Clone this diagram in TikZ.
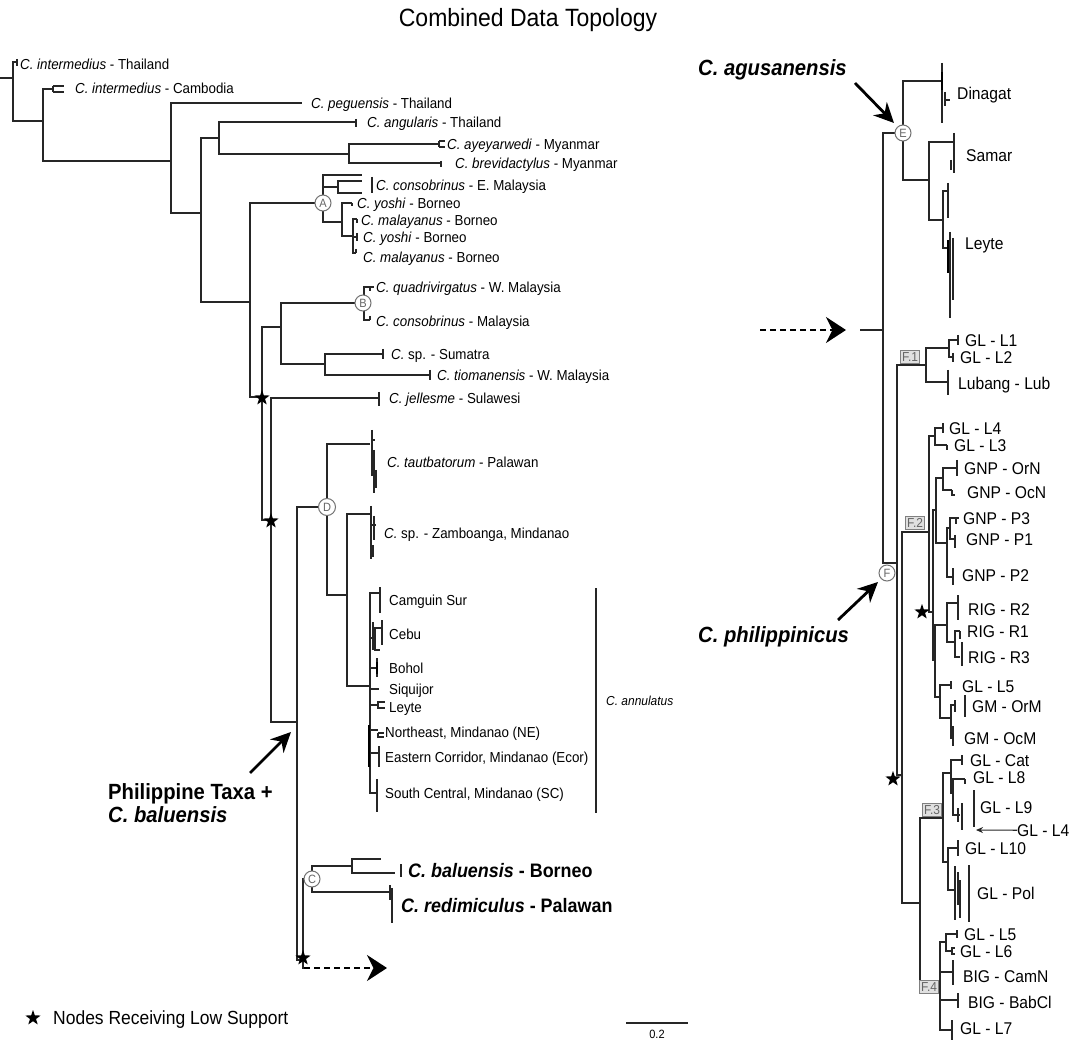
\documentclass[tikz,border=0pt]{standalone}
\usepackage{fontspec}
\setmainfont[FakeStretch=0.92]{Liberation Sans}
\usetikzlibrary{arrows.meta,shapes.geometric,calc}
\newcommand{\spn}[2]{\textit{#1} - #2}
\newcommand{\tipk}[3]{\draw[br] ($(#1)+(0,-#2)$) -- ($(#1)+(0,#3)$);}
\begin{document}
\begin{tikzpicture}[x=1pt,y=-1pt,
  br/.style={line width=1.05pt, draw=black!85},
  bar/.style={line width=2.2pt, draw=black!85},
  lbl/.style={anchor=base west, yshift=-5.2pt, inner sep=0pt, font=\fontsize{14.5}{16}\selectfont},
  rlbl/.style={anchor=base west, yshift=-6.1pt, inner sep=0pt, font=\fontsize{17}{19}\selectfont},
  blbl/.style={anchor=base west, yshift=-7pt, inner sep=0pt, font=\bfseries\fontsize{19.5}{21}\selectfont},
  bigl/.style={anchor=base west, yshift=-7.9pt, inner sep=0pt, font=\bfseries\fontsize{22}{24}\selectfont},
  circ/.style={circle, draw=black!55, line width=1pt, fill=white, inner sep=0pt, minimum size=16pt, font=\fontsize{12}{12}\selectfont, text=black!60},
  fbox/.style={draw=black!50, line width=1pt, fill=black!12, inner sep=1.8pt, font=\fontsize{13}{13}\selectfont, text=black!60},
  lowstar/.style={star, star points=5, star point ratio=2.5, fill=black, draw=none, inner sep=0pt, minimum size=16pt},
  bigarrow/.style={line width=2.8pt, -{Stealth[length=20pt,width=19pt]}},
  dasharrow/.style={line width=2.2pt, dash pattern=on 6pt off 4pt, -{Stealth[length=20pt,width=26pt]}}
]
\fill[white] (0,0) rectangle (1069,1040);
\useasboundingbox (0,0) rectangle (1069,1040);

\node[font=\fontsize{25}{28}\selectfont] (title) at (528,20) {Combined Data Topology};

%%%%%%%%%%%%%%%% LEFT TREE %%%%%%%%%%%%%%%%
\coordinate (stub) at (0,78);
\coordinate (r0) at (13,78);
\coordinate (t1) at (17,62);
\coordinate (n1) at (43,121);
\coordinate (n1a) at (53,89);
\coordinate (n2) at (171,161);
\coordinate (tpeg) at (302,103);
\coordinate (n3) at (201,213);
\coordinate (n4) at (219,138);
\coordinate (tang) at (356,122);
\coordinate (n5) at (349,154);
\coordinate (taye) at (439,144);
\coordinate (tbre) at (441,163);
\coordinate (n6) at (250,302);
\coordinate (nA) at (323,203);
\coordinate (tcon1) at (362,175);
\coordinate (nE) at (338,187);
\coordinate (tcE1) at (362,181);
\coordinate (tcE2) at (362,193);
\coordinate (nY) at (342,222);
\coordinate (tyo1) at (352,203);
\coordinate (nM) at (353,236);
\coordinate (tma1) at (357,219);
\coordinate (tyo2) at (357,237);
\coordinate (tma2) at (356,253);
\coordinate (s1) at (262,397);
\coordinate (nBS) at (281,327);
\coordinate (nB) at (364,303);
\coordinate (tqua) at (370,287);
\coordinate (tcon2) at (370,320);
\coordinate (nS) at (325,364);
\coordinate (tsum) at (383,354);
\coordinate (ttio) at (430,375);
\coordinate (s2) at (271,520);
\coordinate (tjel) at (379,398);
\coordinate (nP) at (297,722);
\coordinate (nD) at (327,507);
\coordinate (ttau) at (370,444);
\coordinate (nZ) at (347,595);
\coordinate (tzam) at (370,514);
\coordinate (nAnn) at (370,686);
\coordinate (tcam) at (380,593);
\coordinate (nCeb) at (375,638);
\coordinate (tceb1) at (382,628);
\coordinate (tceb2) at (380,650);
\coordinate (tboh) at (377,668);
\coordinate (tsiq) at (379,689);
\coordinate (tley) at (378,705);
\coordinate (tne) at (378,730);
\coordinate (tecor) at (379,753);
\coordinate (tsc) at (377,793);
\coordinate (s3) at (303,960);
\coordinate (nC) at (312,879);
\coordinate (nBal) at (352,866);
\coordinate (tbal1) at (381,859);
\coordinate (tbal2) at (395,873);
\coordinate (tred) at (390,892);
\coordinate (dash1) at (304,968);
\coordinate (dash1e) at (387,968);

\draw[br] (stub) -- (r0);
\draw[br] (r0) |- (t1);
\draw[br] (r0) |- (n1);
\draw[br] (n1) |- (n1a);
\draw[br] (n1) |- (n2);
\draw[br] (n2) |- (tpeg);
\draw[br] (n2) |- (n3);
\draw[br] (n3) |- (n4);
\draw[br] (n4) |- (tang);
\draw[br] (n4) |- (n5);
\draw[br] (n5) |- (taye);
\draw[br] (n5) |- (tbre);
\draw[br] (n3) |- (n6);
\draw[br] (n6) |- (nA);
\draw[br] (nA) |- (tcon1);
\draw[br] (nA) |- (nE);
\draw[br] (nE) |- (tcE1);
\draw[br] (nE) |- (tcE2);
\draw[br] (nA) |- (nY);
\draw[br] (nY) |- (tyo1);
\draw[br] (nY) |- (nM);
\draw[br] (nM) |- (tma1);
\draw[br] (nM) |- (tyo2);
\draw[br] (nM) |- (tma2);
\draw[br] (n6) |- (s1);
\draw[br] (s1) |- (nBS);
\draw[br] (nBS) |- (nB);
\draw[br] (nB) |- (tqua);
\draw[br] (nB) |- (tcon2);
\draw[br] (nBS) |- (nS);
\draw[br] (nS) |- (tsum);
\draw[br] (nS) |- (ttio);
\draw[br] (s1) |- (s2);
\draw[br] (s2) |- (tjel);
\draw[br] (s2) |- (nP);
\draw[br] (nP) |- (nD);
\draw[br] (nD) |- (ttau);
\draw[br] (nD) |- (nZ);
\draw[br] (nZ) |- (tzam);
\draw[br] (nZ) |- (nAnn);
\draw[br] (nAnn) |- (tcam);
\draw[br] (nAnn) |- (nCeb);
\draw[br] (nCeb) |- (tceb1);
\draw[br] (nCeb) |- (tceb2);
\draw[br] (nAnn) |- (tboh);
\draw[br] (nAnn) |- (tsiq);
\draw[br] (nAnn) |- (tley);
\draw[br] (nAnn) |- (tne);
\draw[br] (nAnn) |- (tecor);
\draw[br] (nAnn) |- (tsc);
\draw[br] (nP) |- (s3);
\draw[br] (s3) |- (nC);
\draw[br] (nC) |- (nBal);
\draw[br] (nBal) |- (tbal1);
\draw[br] (nBal) |- (tbal2);
\draw[br] (nC) |- (tred);
\draw[br] (s3) |- (dash1);
\draw[dasharrow] (dash1) -- (dash1e);

% tip ticks and small brackets
\tipk{t1}{3}{4}
\draw[br] (53,86) -- (53,92) (53,86) -- (64,86) (53,92) -- (64,92);
\tipk{tang}{3}{5}
\draw[br] (439,141) -- (439,147) (439,141) -- (445,141) (439,147) -- (445,147);
\tipk{tbre}{2}{4}
\tipk{tyo1}{0}{3}
\tipk{tma1}{0}{4}
\tipk{tyo2}{4}{4}
\tipk{tma2}{4}{0}
\draw[br] (tqua) -- ++(0,4) (tqua) -- ++(4,0);
\tipk{tcon2}{4}{0}
\tipk{tsum}{5}{5}
\tipk{ttio}{5}{5}
\tipk{tjel}{6}{8}
\draw[bar] (372,177) -- (372,193);
% tautbatorum bundle
\draw[br] (372,430) -- (372,476) (374,450) -- (374,493) (371,440) -- (375,440) (376,470) -- (376,488);
% Zamboanga bundle
\draw[br] (371,506) -- (371,559) (374,516) -- (374,540) (371,525) -- (376,525) (373,545) -- (373,557);
\tipk{tcam}{6}{20}
\tipk{tceb1}{8}{17}
\draw[br] (377,658) -- (377,677);
\draw[line width=1.8pt] (377,662) -- (377,674);
\draw[br] (tley) -- ++(0,-3) -- ++(7,0) (tley) -- ++(0,3) -- ++(7,0);
\draw[br] (378,733) -- (378,737) -- (384,737) (378,733) -- (384,733);
\tipk{tecor}{7}{14}
\tipk{tsc}{14}{19}
\draw[line width=1.8pt] (369,725) -- (369,767);
\draw[br] (373,622) -- (373,650);
\draw[br] (596,588) -- (596,813);
\draw[bar] (401,864) -- (401,877);
\draw[br] (390,885) -- (390,900) (392,888) -- (392,923);

% circles and stars
\node[circ] (cA) at (323,203) {A};
\node[circ] (cB) at (363,303) {B};
\node[circ, minimum size=17pt] (cD) at (327,507) {D};
\node[circ] (cC) at (312,879) {C};
\node[lowstar] (st1) at (262,398) {};
\node[lowstar] (st2) at (271,521) {};
\node[lowstar] (st3) at (303,958) {};

% left labels
\node[lbl] (l1) at (20,64) {\spn{C. intermedius}{Thailand}};
\node[lbl] (l2) at (75,88) {\spn{C. intermedius}{Cambodia}};
\node[lbl] (l3) at (311,103) {\spn{C. peguensis}{Thailand}};
\node[lbl] (l4) at (367,122) {\spn{C. angularis}{Thailand}};
\node[lbl] (l5) at (447,144) {\spn{C. ayeyarwedi}{Myanmar}};
\node[lbl] (l6) at (455,163) {\spn{C. brevidactylus}{Myanmar}};
\node[lbl] (l7) at (376,185) {\spn{C. consobrinus}{E. Malaysia}};
\node[lbl] (l8) at (357,203) {\spn{C. yoshi}{Borneo}};
\node[lbl] (l9) at (361,220) {\spn{C. malayanus}{Borneo}};
\node[lbl] (l10) at (363,237) {\spn{C. yoshi}{Borneo}};
\node[lbl] (l11) at (363,257) {\spn{C. malayanus}{Borneo}};
\node[lbl] (l12) at (376,287) {\spn{C. quadrivirgatus}{W. Malaysia}};
\node[lbl] (l13) at (376,321) {\spn{C. consobrinus}{Malaysia}};
\node[lbl] (l14) at (391,354) {\textit{C.} sp. - Sumatra};
\node[lbl] (l15) at (437,375) {\spn{C. tiomanensis}{W. Malaysia}};
\node[lbl] (l16) at (389,398) {\spn{C. jellesme}{Sulawesi}};
\node[lbl] (l17) at (387,462) {\spn{C. tautbatorum}{Palawan}};
\node[lbl] (l18) at (384,533) {\textit{C.} sp. - Zamboanga, Mindanao};
\node[lbl] (l19) at (389,600) {Camguin Sur};
\node[lbl] (l20) at (389,634) {Cebu};
\node[lbl] (l21) at (389,668) {Bohol};
\node[lbl] (l22) at (389,689) {Siquijor};
\node[lbl] (l23) at (389,707) {Leyte};
\node[lbl] (l24) at (385,732) {Northeast, Mindanao (NE)};
\node[lbl] (l25) at (385,757) {Eastern Corridor, Mindanao (Ecor)};
\node[lbl] (l26) at (385,793) {South Central, Mindanao (SC)};
\node[lbl, font=\fontsize{13}{15}\selectfont] (l27) at (606,700) {\textit{C. annulatus}};
\node[blbl] (l28) at (408,870) {\textit{C. baluensis} - Borneo};
\node[blbl] (l29) at (401,905) {\textit{C. redimiculus} - Palawan};

\node[bigl] (phil1) at (108,792) {Philippine Taxa +};
\node[bigl] (phil2) at (108,815) {\textit{C. baluensis}};
\coordinate (pa1) at (250,773);
\coordinate (pa2) at (291,732);
\draw[bigarrow] (pa1) -- (pa2);

% legend and scale
\node[lowstar] (legstar) at (33,1018) {};
\node[anchor=base west, yshift=-6.8pt, inner sep=0pt, font=\fontsize{19}{21}\selectfont] (leg) at (53,1018) {Nodes Receiving Low Support};
\coordinate (sb1) at (626,1023);
\coordinate (sb2) at (688,1023);
\draw[br] (sb1) -- (sb2);
\node[font=\fontsize{12}{13}\selectfont] (sbl) at (657,1034) {0.2};

%%%%%%%%%%%%%%%% RIGHT TREE %%%%%%%%%%%%%%%%
\coordinate (rstub) at (860,330);
\coordinate (r1) at (883,330);
\coordinate (nEE) at (903,133);
\coordinate (tdin) at (942,81);
\coordinate (nSL) at (929,180);
\coordinate (tsam) at (954,142);
\coordinate (nLy) at (943,220);
\coordinate (tly1) at (948,191);
\coordinate (tly2) at (950,248);
\coordinate (nF) at (897,563);
\coordinate (nF1) at (926,365);
\coordinate (nL12) at (949,348);
\coordinate (tL1) at (958,340);
\coordinate (tL2) at (953,357);
\coordinate (tLub) at (948,382);
\coordinate (nSt) at (902,775);
\coordinate (nF2) at (929,532);
\coordinate (nL34) at (935,436);
\coordinate (tL4) at (943,428);
\coordinate (tL3) at (947,445);
\coordinate (nS2) at (933,612);
\coordinate (nGNP) at (936,510);
\coordinate (nOr) at (943,478);
\coordinate (tOrN) at (957,468);
\coordinate (tOcN) at (952,490);
\coordinate (nPP) at (947,543);
\coordinate (nP31) at (950,528);
\coordinate (tP3) at (956,518);
\coordinate (tP1) at (955,539);
\coordinate (tP2) at (953,577);
\coordinate (nR) at (935,660);
\coordinate (nRIG) at (947,625);
\coordinate (tR2) at (958,603);
\coordinate (nR13) at (955,642);
\coordinate (tR1) at (960,631);
\coordinate (tR3) at (960,657);
\coordinate (nGM) at (940,697);
\coordinate (tL5a) at (951,685);
\coordinate (nOM) at (951,718);
\coordinate (tOrM) at (955,705);
\coordinate (tOcM) at (953,738);
\coordinate (nF34) at (920,903);
\coordinate (nF3) at (943,818);
\coordinate (nCat) at (951,773);
\coordinate (tCat) at (962,760);
\coordinate (nL89) at (953,793);
\coordinate (tL8) at (965,779);
\coordinate (tL9) at (960,815);
\coordinate (nL10) at (948,862);
\coordinate (tL10) at (958,848);
\coordinate (tPol) at (955,890);
\coordinate (nF4) at (940,982);
\coordinate (nL56) at (946,942);
\coordinate (tL5b) at (957,934);
\coordinate (tL6) at (952,951);
\coordinate (tCamN) at (953,972);
\coordinate (tBab) at (958,1000);
\coordinate (tL7) at (952,1030);
\coordinate (dash2) at (760,330);
\coordinate (dash2e) at (846,330);

\draw[dasharrow] (dash2) -- (dash2e);
\draw[br] (rstub) -- (r1);
\draw[br] (r1) |- (nEE);
\draw[br] (nEE) |- (tdin);
\draw[br] (nEE) |- (nSL);
\draw[br] (nSL) |- (tsam);
\draw[br] (nSL) |- (nLy);
\draw[br] (nLy) |- (tly1);
\draw[br] (nLy) |- (tly2);
\draw[br] (r1) |- (nF);
\draw[br] (nF) |- (nF1);
\draw[br] (nF1) |- (nL12);
\draw[br] (nL12) |- (tL1);
\draw[br] (nL12) |- (tL2);
\draw[br] (nF1) |- (tLub);
\draw[br] (nF) |- (nSt);
\draw[br] (nSt) |- (nF2);
\draw[br] (nF2) |- (nL34);
\draw[br] (nL34) |- (tL4);
\draw[br] (nL34) |- (tL3);
\draw[br] (nF2) |- (nS2);
\draw[br] (nS2) |- (nGNP);
\draw[br] (nGNP) |- (nOr);
\draw[br] (nOr) |- (tOrN);
\draw[br] (nOr) |- (tOcN);
\draw[br] (nGNP) |- (nPP);
\draw[br] (nPP) |- (nP31);
\draw[br] (nP31) |- (tP3);
\draw[br] (nP31) |- (tP1);
\draw[br] (nPP) |- (tP2);
\draw[br] (nS2) |- (nR);
\draw[br] (nR) |- (nRIG);
\draw[br] (nRIG) |- (tR2);
\draw[br] (nRIG) |- (nR13);
\draw[br] (nR13) |- (tR1);
\draw[br] (nR13) |- (tR3);
\draw[br] (nR) |- (nGM);
\draw[br] (nGM) |- (tL5a);
\draw[br] (nGM) |- (nOM);
\draw[br] (nOM) |- (tOrM);
\draw[br] (nOM) |- (tOcM);
\draw[br] (nSt) |- (nF34);
\draw[br] (nF34) |- (nF3);
\draw[br] (nF3) |- (nCat);
\draw[br] (nCat) |- (tCat);
\draw[br] (nCat) |- (nL89);
\draw[br] (nL89) |- (tL8);
\draw[br] (nL89) |- (tL9);
\draw[br] (nF3) |- (nL10);
\draw[br] (nL10) |- (tL10);
\draw[br] (nL10) |- (tPol);
\draw[br] (nF34) |- (nF4);
\draw[br] (nF4) |- (nL56);
\draw[br] (nL56) |- (tL5b);
\draw[br] (nL56) |- (tL6);
\draw[br] (nF4) |- (tCamN);
\draw[br] (nF4) |- (tBab);
\draw[br] (nF4) |- (tL7);

% right tip bundles and ticks
\draw[br] (942,63) -- (942,123) (945,92) -- (945,106) (945,100) -- (950,100);
\draw[line width=1.8pt] (942,72) -- (942,90);
\draw[br] (954,133) -- (954,173) (951,160) -- (951,170);
\draw[br] (948,183) -- (948,218) (950,232) -- (950,318) (953,238) -- (953,300);
\draw[line width=2.2pt] (948,240) -- (948,273);
\tipk{tL1}{5}{5}
\tipk{tL2}{4}{5}
\tipk{tLub}{12}{13}
\tipk{tL4}{5}{5}
\tipk{tL3}{0}{5}
\tipk{tOrN}{8}{8}
\draw[br] (tOcN) -- ++(0,5) -- ++(3,0);
\draw[br] (tP3) -- ++(0,6) (tP3) -- ++(3,0);
\tipk{tP1}{4}{9}
\tipk{tP2}{9}{8}
\tipk{tR2}{8}{17}
\tipk{tR1}{0}{8}
\draw[br] (962,642) -- (962,666);
\tipk{tL5a}{4}{4}
\tipk{tOrM}{5}{7}
\tipk{tOcM}{12}{8}
\tipk{tCat}{5}{5}
\tipk{tL8}{0}{5}
\draw[br] (962,803) -- (962,830) (958,808) -- (958,822);
\tipk{tL10}{8}{8}
\draw[br] (955,866) -- (955,920) (958,872) -- (958,905) (960,880) -- (960,918);
\tipk{tL5b}{4}{4}
\draw[br] (tL6) -- ++(0,-3) -- ++(3,0) (tL6) -- ++(0,3) -- ++(3,0);
\tipk{tCamN}{12}{13}
\tipk{tBab}{7}{8}
\tipk{tL7}{10}{10}
\draw[bar] (965,695) -- (965,717);
\draw[bar] (974,790) -- (974,827);
\draw[bar] (969,865) -- (969,922);

% circles, boxes, stars
\node[circ] (cE) at (903,133) {E};
\node[circ] (cF) at (887,573) {F};
\node[fbox] (bF1) at (910,357) {F.1};
\node[fbox] (bF2) at (915,523) {F.2};
\node[fbox] (bF3) at (932,810) {F.3};
\node[fbox] (bF4) at (929,987) {F.4};
\node[lowstar] (st4) at (922,612) {};
\node[lowstar] (st5) at (893,779) {};

% right labels
\node[rlbl] (r01) at (957,93) {Dinagat};
\node[rlbl] (r02) at (966,155) {Samar};
\node[rlbl] (r03) at (965,243) {Leyte};
\node[rlbl] (r04) at (965,340) {GL - L1};
\node[rlbl] (r05) at (960,357) {GL - L2};
\node[rlbl] (r06) at (958,383) {Lubang - Lub};
\node[rlbl] (r07) at (949,428) {GL - L4};
\node[rlbl] (r08) at (954,445) {GL - L3};
\node[rlbl] (r09) at (964,468) {GNP - OrN};
\node[rlbl] (r10) at (967,492) {GNP - OcN};
\node[rlbl] (r11) at (963,518) {GNP - P3};
\node[rlbl] (r12) at (966,539) {GNP - P1};
\node[rlbl] (r13) at (962,575) {GNP - P2};
\node[rlbl] (r14) at (968,609) {RIG - R2};
\node[rlbl] (r15) at (967,631) {RIG - R1};
\node[rlbl] (r16) at (968,657) {RIG - R3};
\node[rlbl] (r17) at (962,686) {GL - L5};
\node[rlbl] (r18) at (972,706) {GM - OrM};
\node[rlbl] (r19) at (964,738) {GM - OcM};
\node[rlbl] (r20) at (970,760) {GL - Cat};
\node[rlbl] (r21) at (973,777) {GL - L8};
\node[rlbl] (r22) at (980,807) {GL - L9};
\node[rlbl] (r23) at (1017,830) {GL - L4};
\node[rlbl] (r24) at (965,848) {GL - L10};
\node[rlbl] (r25) at (977,893) {GL - Pol};
\node[rlbl] (r26) at (964,934) {GL - L5};
\node[rlbl] (r27) at (960,951) {GL - L6};
\node[rlbl] (r28) at (963,976) {BIG - CamN};
\node[rlbl] (r29) at (968,1002) {BIG - BabCl};
\node[rlbl] (r30) at (960,1028) {GL - L7};
\coordinate (l4tip) at (976,830);
\draw[br, -{Stealth[length=7pt,width=6pt]}] (r23.west) -- (l4tip);

\node[bigl] (agu) at (698,68) {\textit{C. agusanensis}};
\node[bigl] (phi) at (698,635) {\textit{C. philippinicus}};
\coordinate (aa1) at (855,83);
\coordinate (aa2) at (894,123);
\draw[bigarrow] (aa1) -- (aa2);
\coordinate (pb1) at (838,620);
\coordinate (pb2) at (878,582);
\draw[bigarrow] (pb1) -- (pb2);
\end{tikzpicture}
\end{document}
